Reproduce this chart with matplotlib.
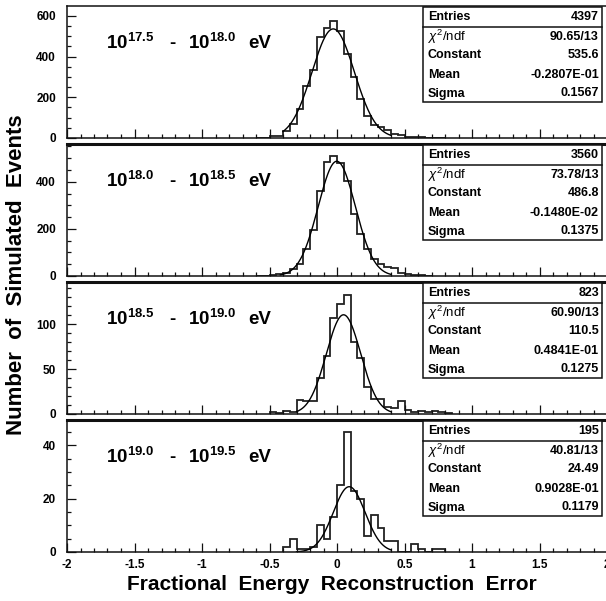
import numpy as np
import matplotlib
matplotlib.use('Agg')
import matplotlib.pyplot as plt
from matplotlib.patches import Rectangle
from matplotlib.lines import Line2D
from matplotlib.ticker import MultipleLocator

plt.rcParams['font.family'] = ['Liberation Sans', 'DejaVu Sans']
plt.rcParams['mathtext.fontset'] = 'custom'
plt.rcParams['mathtext.rm'] = 'Liberation Sans'
plt.rcParams['mathtext.it'] = 'Liberation Sans:italic'
plt.rcParams['mathtext.bf'] = 'Liberation Sans:bold'
plt.rcParams['axes.unicode_minus'] = False

# ---------------- data ----------------
bin_width = 0.05
x_tick_values = [-2, -1.5, -1, -0.5, 0, 0.5, 1, 1.5, 2]
x_tick_labels = ['-2', '-1.5', '-1', '-0.5', '0', '0.5', '1', '1.5', '2']

range_lo = ['17.5', '18.0', '18.5', '19.0']
range_hi = ['18.0', '18.5', '19.0', '19.5']

# first bin left edge and the counts of consecutive 0.05-wide bins
p1_start = -0.60
p1_counts = [2, 2, 12, 12, 35, 70, 140, 255, 335, 495, 540, 572, 525, 410, 300, 192,
             110, 64, 55, 37, 21, 13, 6, 5, 3, 2, 2, 1]
p2_start = -0.60
p2_counts = [2, 2, 4, 8, 12, 30, 50, 115, 195, 360, 485, 508, 480, 405, 263, 180,
             114, 74, 50, 38, 36, 14, 7, 5, 4, 2]
p3_start = -0.50
p3_counts = [2, 1, 3, 2, 16, 15, 14, 40, 65, 107, 123, 132, 80, 62, 30, 17, 17, 8,
             7, 15, 4, 2, 3, 2, 3, 2, 1]
p4_start = -0.40
p4_counts = [2, 5, 1, 1, 2, 10, 5, 13, 25, 45, 23, 20, 6, 14, 9, 4, 4, 0, 0, 3, 1,
             0, 1, 1]

entries = ['4397', '3560', '823', '195']
chi2ndf = ['90.65/13', '73.78/13', '60.90/13', '40.81/13']
constant = ['535.6', '486.8', '110.5', '24.49']
mean = ['-0.2807E-01', '-0.1480E-02', '0.4841E-01', '0.9028E-01']
sigma = ['0.1567', '0.1375', '0.1275', '0.1179']
fit_range = [(-0.40, 0.40), (-0.42, 0.40), (-0.30, 0.40), (-0.30, 0.40)]

y_max = [648, 560, 147, 49.5]
y_major = [200, 200, 50, 20]
y_minor = [50, 50, 10, 5]

starts = [p1_start, p2_start, p3_start, p4_start]
counts = [p1_counts, p2_counts, p3_counts, p4_counts]

# ---------------- layout ----------------
W, H = 606, 601
fig = plt.figure(figsize=(W / 100, H / 100), dpi=100)
fig.patch.set_facecolor('white')


def fx(px):
    return px / W


def fy(py):
    return 1 - py / H


x_left_px, x_right_px = 67, 607
panel_tops = [6, 144, 282, 420]
panel_h = 132

TICKFS = 8.5
for i in range(4):
    top = panel_tops[i]
    ax = fig.add_axes([fx(x_left_px), fy(top + panel_h),
                       (x_right_px - x_left_px) / W, panel_h / H])
    ax.set_xlim(-2, 2)
    ax.set_ylim(0, y_max[i])
    for sp in ax.spines.values():
        sp.set_linewidth(1.1)
        sp.set_color('#111111')
    if i > 0:
        ax.spines['top'].set_linewidth(2.2)

    edges = starts[i] + bin_width * np.arange(len(counts[i]) + 1)
    ax.stairs(counts[i], edges, color='#222222', lw=1.3, baseline=0)

    m = float(mean[i]); s = float(sigma[i]); c = float(constant[i])
    xs = np.linspace(fit_range[i][0], fit_range[i][1], 300)
    ax.plot(xs, c * np.exp(-0.5 * ((xs - m) / s) ** 2), color='black', lw=1.0)

    ax.xaxis.set_major_locator(MultipleLocator(0.5))
    ax.xaxis.set_minor_locator(MultipleLocator(0.1))
    ax.yaxis.set_major_locator(MultipleLocator(y_major[i]))
    ax.yaxis.set_minor_locator(MultipleLocator(y_minor[i]))
    ax.tick_params(axis='both', which='major', direction='in', length=6.5, width=0.9,
                   top=False, right=False, labelsize=TICKFS, color='#111111')
    ax.tick_params(axis='both', which='minor', direction='in', length=3.2, width=0.9,
                   top=False, right=False, color='#111111')
    ax.tick_params(axis='y', pad=8)
    ax.tick_params(axis='x', pad=5)
    ax.set_xticks(x_tick_values)
    if i == 3:
        ax.set_xticklabels(x_tick_labels)
    else:
        ax.set_xticklabels([])
    for lab in ax.get_yticklabels() + ax.get_xticklabels():
        lab.set_fontweight('bold')

    # energy range label
    ty = fy(top + 37)
    fig.text(fx(106), ty, r'$\mathbf{10^{%s}}$' % range_lo[i], fontsize=13.5,
             va='center', ha='left')
    fig.text(fx(172), ty, '-', fontsize=13.5, fontweight='bold', va='center', ha='center')
    fig.text(fx(188), ty, r'$\mathbf{10^{%s}}$' % range_hi[i], fontsize=13.5,
             va='center', ha='left')
    fig.text(fx(248), ty, 'eV', fontsize=13.5, fontweight='bold', va='center', ha='left')

    # stats box
    bl, br = 423, 602
    bt, bb = top + 1, top + 96
    fig.add_artist(Rectangle((fx(bl), fy(bb)), (br - bl) / W, (bb - bt) / H,
                             transform=fig.transFigure, facecolor='white',
                             edgecolor='#111111', lw=1.1, zorder=5))
    fig.add_artist(Line2D([fx(bl), fx(br)], [fy(bt + 20), fy(bt + 20)],
                          transform=fig.transFigure, color='#111111', lw=1.1, zorder=6))
    rows_y = [10, 30, 48.5, 67.5, 86.5]
    names = ['Entries', None, 'Constant', 'Mean', 'Sigma']
    vals = [entries[i], chi2ndf[i], constant[i], mean[i], sigma[i]]
    for r in range(5):
        yy = fy(bt + rows_y[r])
        if names[r] is None:
            fig.text(fx(428), yy, r'$\chi^{2}$/ndf', fontsize=9.5, va='center',
                     ha='left', zorder=7)
        else:
            fig.text(fx(428), yy, names[r], fontsize=9, fontweight='bold', va='center',
                     ha='left', zorder=7)
        fig.text(fx(599), yy, vals[r], fontsize=9, fontweight='bold', va='center',
                 ha='right', zorder=7)

fig.text(fx(17), fy(275), 'Number  of  Simulated  Events', rotation=90, fontsize=16,
         fontweight='bold', va='center', ha='center')
fig.text(fx(332), fy(585), 'Fractional  Energy  Reconstruction  Error', fontsize=15,
         fontweight='bold', va='center', ha='center')

fig.savefig('out.png', dpi=100)
